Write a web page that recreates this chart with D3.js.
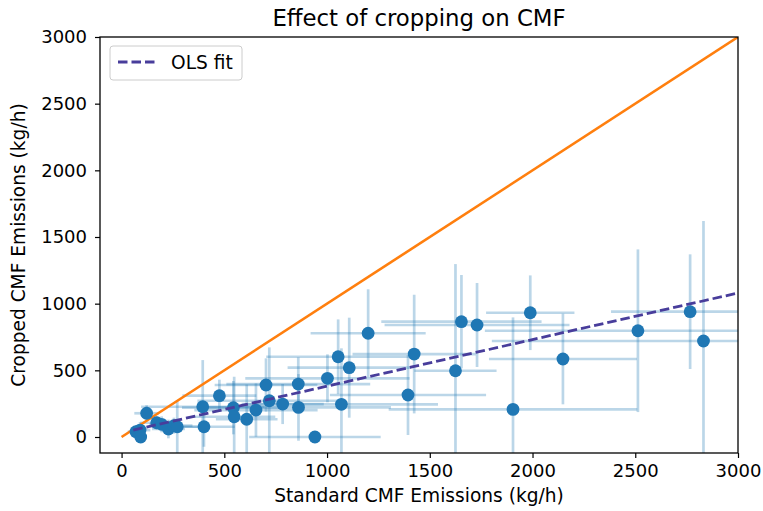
<!DOCTYPE html>
<html>
<head>
<meta charset="utf-8">
<script src="https://cdn.jsdelivr.net/npm/d3@7"></script>
<style>
  body { margin: 0; background: #fff; }
  text { font-family: "DejaVu Sans", sans-serif; fill: #000; }
</style>
</head>
<body>
<script>
var width = 763, height = 511;

// standard CMF (x), cropped CMF (y), with their errors
var stdVals  = [70, 90, 93, 122, 171, 195, 228, 255, 271, 395, 401, 476, 544, 548, 609, 654, 703, 719, 784, 860, 861, 941, 1002, 1054, 1070, 1108, 1200, 1394, 1424, 1625, 1654, 1730, 1905, 1989, 2148, 2513, 2767, 2832];
var cropVals = [40, 52, 0, 178, 107, 95, 60, 85, 77, 227, 77, 310, 220, 152, 133, 202, 390, 272, 247, 397, 222, 0, 440, 602, 245, 520, 778, 315, 622, 497, 865, 840, 207, 932, 585, 797, 940, 720];
var stdErr   = [40, 50, 30, 60, 80, 60, 80, 90, 100, 300, 150, 180, 250, 200, 150, 300, 250, 350, 200, 350, 450, 320, 400, 350, 470, 300, 280, 380, 300, 200, 390, 450, 605, 215, 360, 745, 385, 1030];
var cropErr  = [40, 60, 30, 60, 50, 60, 70, 60, 200, 350, 150, 120, 200, 300, 260, 200, 200, 400, 150, 200, 250, 20, 180, 280, 420, 375, 330, 300, 445, 800, 350, 315, 690, 280, 340, 610, 430, 900];

var xTicks = [0, 500, 1000, 1500, 2000, 2500, 3000];
var yTicks = [0, 500, 1000, 1500, 2000, 2500, 3000];
var unityLine = [0, 3000];
var fitX = [57, 3000];
var fitY = [52, 1080];

var margin = {left: 100, right: 25, top: 37, bottom: 58};

var x = d3.scaleLinear().domain([-105, 3000]).range([margin.left, width - margin.right]);
var y = d3.scaleLinear().domain([-120, 3000]).range([height - margin.bottom, margin.top]);

var svg = d3.select("body").append("svg")
    .attr("width", width)
    .attr("height", height);

svg.append("defs").append("clipPath").attr("id", "plotclip")
   .append("rect")
   .attr("x", margin.left).attr("y", margin.top)
   .attr("width", width - margin.left - margin.right)
   .attr("height", height - margin.top - margin.bottom);

var plot = svg.append("g").attr("clip-path", "url(#plotclip)");

var pts = stdVals.map(function (v, i) {
    return {x: v, y: cropVals[i], xe: stdErr[i], ye: cropErr[i]};
});

// error bars
var bars = plot.append("g")
    .attr("stroke", "#1f77b4")
    .attr("stroke-opacity", 0.3)
    .attr("stroke-width", 2.7);

bars.selectAll(".xbar").data(pts).enter().append("line")
    .attr("x1", function (d) { return x(d.x - d.xe); })
    .attr("x2", function (d) { return x(d.x + d.xe); })
    .attr("y1", function (d) { return y(d.y); })
    .attr("y2", function (d) { return y(d.y); });

bars.selectAll(".ybar").data(pts).enter().append("line")
    .attr("x1", function (d) { return x(d.x); })
    .attr("x2", function (d) { return x(d.x); })
    .attr("y1", function (d) { return y(d.y - d.ye); })
    .attr("y2", function (d) { return y(d.y + d.ye); });

// unity line
plot.append("line")
    .attr("x1", x(unityLine[0])).attr("y1", y(unityLine[0]))
    .attr("x2", x(unityLine[1])).attr("y2", y(unityLine[1]))
    .attr("stroke", "#ff7f0e")
    .attr("stroke-width", 2.6);

// points
plot.selectAll("circle").data(pts).enter().append("circle")
    .attr("cx", function (d) { return x(d.x); })
    .attr("cy", function (d) { return y(d.y); })
    .attr("r", 6.4)
    .attr("fill", "#1f77b4");

// OLS fit
plot.append("line")
    .attr("x1", x(fitX[0])).attr("y1", y(fitY[0]))
    .attr("x2", x(fitX[1])).attr("y2", y(fitY[1]))
    .attr("stroke", "#483d9b")
    .attr("stroke-width", 2.8)
    .attr("stroke-dasharray", "9.5,4");

// axes
var xAxis = svg.append("g")
    .attr("transform", "translate(0," + (height - margin.bottom) + ")")
    .call(d3.axisBottom(x).tickValues(xTicks).tickSize(5).tickPadding(6).tickFormat(d3.format("d")));
var yAxis = svg.append("g")
    .attr("transform", "translate(" + margin.left + ",0)")
    .call(d3.axisLeft(y).tickValues(yTicks).tickSize(5).tickPadding(8).tickFormat(d3.format("d")));

[xAxis, yAxis].forEach(function (a) {
    a.select(".domain").remove();
    a.selectAll("text").style("font-size", "18px").style("font-family", "DejaVu Sans");
    a.selectAll("line").attr("stroke", "#000").attr("stroke-width", 1.2);
});

svg.append("rect")
    .attr("x", margin.left).attr("y", margin.top)
    .attr("width", width - margin.left - margin.right)
    .attr("height", height - margin.top - margin.bottom)
    .attr("fill", "none")
    .attr("stroke", "#000")
    .attr("stroke-width", 1.3);

// titles
svg.append("text")
    .attr("x", (margin.left + width - margin.right) / 2)
    .attr("y", 26)
    .attr("text-anchor", "middle")
    .style("font-size", "22.8px")
    .text("Effect of cropping on CMF");

svg.append("text")
    .attr("x", (margin.left + width - margin.right) / 2)
    .attr("y", 502)
    .attr("text-anchor", "middle")
    .style("font-size", "18.6px")
    .text("Standard CMF Emissions (kg/h)");

svg.append("text")
    .attr("transform", "translate(25," + ((margin.top + height - margin.bottom) / 2) + ") rotate(-90)")
    .attr("text-anchor", "middle")
    .style("font-size", "18.6px")
    .text("Cropped CMF Emissions (kg/h)");

// legend
var legend = svg.append("g");
legend.append("rect")
    .attr("x", 110).attr("y", 46)
    .attr("width", 132).attr("height", 34)
    .attr("rx", 3)
    .attr("fill", "#fff").attr("fill-opacity", 0.8)
    .attr("stroke", "#ccc");
legend.append("line")
    .attr("x1", 118).attr("x2", 157)
    .attr("y1", 62).attr("y2", 62)
    .attr("stroke", "#483d9b")
    .attr("stroke-width", 2.8)
    .attr("stroke-dasharray", "9.5,4");
legend.append("text")
    .attr("x", 171).attr("y", 69)
    .style("font-size", "18.6px")
    .text("OLS fit");
</script>
</body>
</html>
